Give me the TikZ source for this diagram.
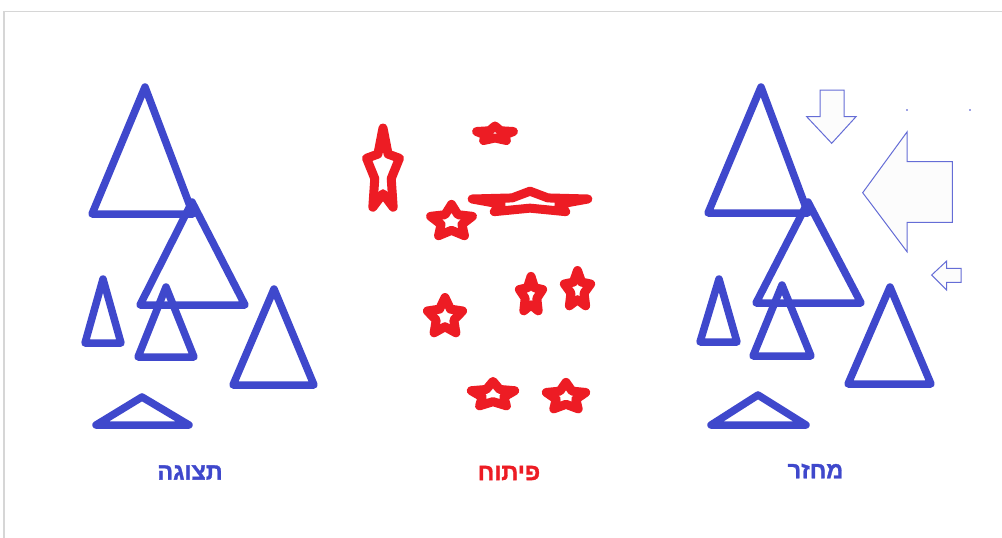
\documentclass[tikz,border=0pt]{standalone}
\usepackage{fontspec}
\TeXXeTstate=1
\newfontfamily\hebfont[Script=Hebrew, FakeBold=1.2]{Liberation Sans Bold}
\definecolor{tblue}{HTML}{3F48CC}
\definecolor{tred}{HTML}{ED1C24}
\definecolor{framegray}{HTML}{D6D6D6}
\definecolor{arrfill}{HTML}{FCFCFC}
\tikzset{
  tri/.style={draw=tblue, line width=7.5pt, line join=round},
  starline/.style={draw=tred, line width=9pt, line join=round, line cap=round},
  bigarrow/.style={draw=tblue!80, line width=1pt, fill=arrfill, line join=miter},
  lbl/.style={font=\hebfont\fontsize{23.5}{28}\selectfont, inner sep=0pt},
}
\newcommand\rstar[4]{\draw[starline,shift={(#1,#2)},xscale=#3,yscale=#4]
  (-90:1) -- (-54:0.5) -- (-18:1) -- (18:0.5) -- (54:1) -- (90:0.5) --
  (126:1) -- (162:0.5) -- (198:1) -- (234:0.5) -- cycle;}
\begin{document}
\begin{tikzpicture}[x=1pt,y=-1pt]
\useasboundingbox (0,0) rectangle (1002,538);
\fill[white] (0,0) rectangle (1002,538);
% frame
\draw[framegray, line width=1.5pt] (4,538) -- (4,11.7) -- (1002,11.7);
% left group
\draw[tri] (145,87) -- (193,214) -- (92,214) -- cycle;
\draw[tri] (192,202) -- (245,305) -- (140,305) -- cycle;
\draw[tri] (103,279) -- (121,343) -- (85,343) -- cycle;
\draw[tri] (166,287) -- (194,357) -- (138,357) -- cycle;
\draw[tri] (274,289) -- (314,385) -- (233,385) -- cycle;
\draw[tri] (142,397) -- (189,425) -- (96,425) -- cycle;
% right group
\draw[tri] (761,87) -- (808,213) -- (708,213) -- cycle;
\draw[tri] (808,202) -- (861,303) -- (756,303) -- cycle;
\draw[tri] (719,279) -- (737,342) -- (700,342) -- cycle;
\draw[tri] (782,285) -- (811,356) -- (753,356) -- cycle;
\draw[tri] (890,287) -- (931,384) -- (848,384) -- cycle;
\draw[tri] (758,395) -- (806,425) -- (711,425) -- cycle;
% arrows
\draw[bigarrow] (820,90) -- (844,90) -- (844,116.7) -- (856,116.7) -- (831.7,143.3) -- (806.7,116.7) -- (820,116.7) -- cycle;
\draw[bigarrow] (952.3,161.7) -- (907,161.7) -- (907,132) -- (862.7,192.7) -- (907,251.7) -- (907,222.3) -- (952.3,222.3) -- cycle;
\draw[bigarrow] (961,268.3) -- (946.7,268.3) -- (946.7,261) -- (931.7,275) -- (946.7,290) -- (946.7,282.3) -- (961,282.3) -- cycle;
\fill[tblue!50] (906,109.3) rectangle (907.5,110.8);
\fill[tblue!50] (969.3,109.3) rectangle (970.8,110.8);
% stars
\rstar{383}{171.8}{17.3}{43.8}
\rstar{495}{134}{19.3}{8}
\rstar{530}{202.5}{60.8}{11.3}
\rstar{451.5}{221.7}{22}{17.3}
\rstar{445}{317}{18.5}{19.5}
\rstar{531}{295.4}{12.2}{19}
\rstar{577.5}{290}{13.8}{19.5}
\rstar{493}{394.9}{22.8}{13.5}
\rstar{566}{397}{20.7}{14.6}
% labels
\node[lbl, text=tblue] (lblA) at (190,472.5) {\beginR תצוגה\endR};
\node[lbl, text=tred] (lblB) at (509,473) {\beginR פיתוח\endR};
\node[lbl, text=tblue] (lblC) at (815.5,471) {\beginR מחזר\endR};
\end{tikzpicture}
\end{document}
